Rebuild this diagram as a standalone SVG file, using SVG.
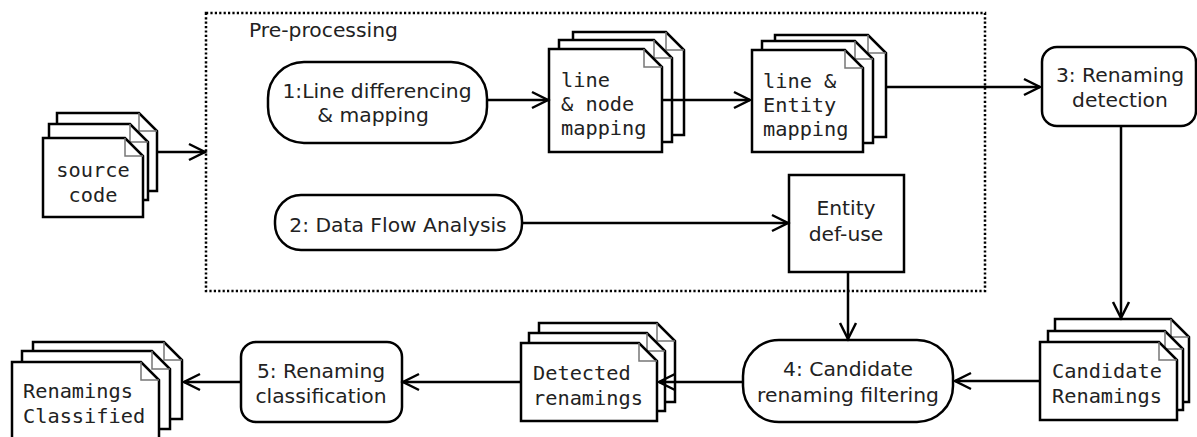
<svg xmlns="http://www.w3.org/2000/svg" width="1197" height="437" viewBox="0 0 1197 437">
<style>
.box{fill:#fff;stroke:#000;stroke-width:2.5}
.doc{fill:#fff;stroke:#000;stroke-width:2.5;stroke-linejoin:miter}
.fold{fill:none;stroke:#777;stroke-width:1.5}
.sans{font-family:"DejaVu Sans","Liberation Sans",sans-serif;font-size:20.3px;fill:#222}
.mono{font-family:"DejaVu Sans Mono","Liberation Mono",monospace;font-size:20.3px;fill:#222}
.c{text-anchor:middle}
.edge{fill:none;stroke:#000;stroke-width:2.5}
.dotted{fill:none;stroke:#000;stroke-width:2.5;stroke-dasharray:2.2,2.2}
</style>
<defs>
<marker id="arr" markerUnits="userSpaceOnUse" markerWidth="24" markerHeight="24" viewBox="-20 -12 24 24" refX="0" refY="0" orient="auto">
<path d="M-16,-8 L0,0 L-16,8" fill="none" stroke="#000" stroke-width="2.5"/>
</marker>
</defs>

<g id="preprocessing">
<rect class="dotted" x="206" y="13" width="779" height="278"/>
<text class="sans" x="249" y="37">Pre-processing</text>
</g>

<g id="source-code">
<path class="doc" d="M57,113 H139 L157,131 V191 H57 Z"/><path class="fold" d="M139,113 V131 H157"/>
<path class="doc" d="M49,124 H130 L148,142 V200 H49 Z"/><path class="fold" d="M130,124 V142 H148"/>
<path class="doc" d="M43,138 H125 L143,156 V217 H43 Z"/><path class="fold" d="M125,138 V156 H143"/>
<text class="mono c" x="93" y="177">source</text>
<text class="mono c" x="93" y="202">code</text>
</g>

<g id="node1">
<rect class="box" x="268" y="62" width="219" height="81" rx="36" ry="36"/>
<text class="sans c" x="377" y="98">1:Line differencing</text>
<text class="sans c" x="373" y="122">&amp; mapping</text>
</g>

<g id="line-node-mapping">
<path class="doc" d="M573,32 H666 L684,50 V135 H573 Z"/><path class="fold" d="M666,32 V50 H684"/>
<path class="doc" d="M559,40 H654 L672,58 V142 H559 Z"/><path class="fold" d="M654,40 V58 H672"/>
<path class="doc" d="M549,49 H644 L662,67 V152 H549 Z"/><path class="fold" d="M644,49 V67 H662"/>
<text class="mono" x="561" y="87">line</text>
<text class="mono" x="561" y="111">&amp; node</text>
<text class="mono" x="561" y="135">mapping</text>
</g>

<g id="line-entity-mapping">
<path class="doc" d="M775,35 H868 L886,53 V137 H775 Z"/><path class="fold" d="M868,35 V53 H886"/>
<path class="doc" d="M762,41 H855 L873,59 V143 H762 Z"/><path class="fold" d="M855,41 V59 H873"/>
<path class="doc" d="M752,50 H845 L863,68 V152 H752 Z"/><path class="fold" d="M845,50 V68 H863"/>
<text class="mono" x="763" y="88">line &amp;</text>
<text class="mono" x="763" y="112">Entity</text>
<text class="mono" x="763" y="136">mapping</text>
</g>

<g id="node3">
<rect class="box" x="1042" y="47" width="154" height="79" rx="15" ry="15"/>
<text class="sans c" x="1120" y="82">3: Renaming</text>
<text class="sans c" x="1120" y="107">detection</text>
</g>

<g id="node2">
<rect class="box" x="275" y="195" width="247" height="55" rx="26" ry="26"/>
<text class="sans c" x="398" y="232">2: Data Flow Analysis</text>
</g>

<g id="entity-def-use">
<rect class="box" x="789" y="175" width="115" height="97"/>
<text class="sans c" x="846" y="215">Entity</text>
<text class="sans c" x="846" y="241">def-use</text>
</g>

<g id="candidate-renamings">
<path class="doc" d="M1055,319 H1171 L1189,337 V402 H1055 Z"/><path class="fold" d="M1171,319 V337 H1189"/>
<path class="doc" d="M1048,331 H1165 L1183,349 V410 H1048 Z"/><path class="fold" d="M1165,331 V349 H1183"/>
<path class="doc" d="M1040,342 H1159 L1177,360 V420 H1040 Z"/><path class="fold" d="M1159,342 V360 H1177"/>
<text class="mono" x="1052" y="378">Candidate</text>
<text class="mono" x="1052" y="403">Renamings</text>
</g>

<g id="node4">
<rect class="box" x="743" y="340" width="210" height="82" rx="36" ry="36"/>
<text class="sans c" x="848" y="376">4: Candidate</text>
<text class="sans c" x="848" y="402">renaming filtering</text>
</g>

<g id="detected-renamings">
<path class="doc" d="M539,323 H657 L675,341 V402 H539 Z"/><path class="fold" d="M657,323 V341 H675"/>
<path class="doc" d="M529,333 H647 L665,351 V411 H529 Z"/><path class="fold" d="M647,333 V351 H665"/>
<path class="doc" d="M521,343 H639 L657,361 V421 H521 Z"/><path class="fold" d="M639,343 V361 H657"/>
<text class="mono" x="533" y="380">Detected</text>
<text class="mono" x="533" y="405">renamings</text>
</g>

<g id="node5">
<rect class="box" x="241" y="342" width="161" height="80" rx="15" ry="15"/>
<text class="sans c" x="321" y="378">5: Renaming</text>
<text class="sans c" x="321" y="403">classification</text>
</g>

<g id="renamings-classified">
<path class="doc" d="M33,342 H164 L182,360 V419 H33 Z"/><path class="fold" d="M164,342 V360 H182"/>
<path class="doc" d="M22,351 H152 L170,369 V429 H22 Z"/><path class="fold" d="M152,351 V369 H170"/>
<path class="doc" d="M12,362 H141 L159,380 V445 H12 Z"/><path class="fold" d="M141,362 V380 H159"/>
<text class="mono" x="23" y="398">Renamings</text>
<text class="mono" x="23" y="423">Classified</text>
</g>

<g id="connectors">
<path class="edge" d="M157,152 H205" marker-end="url(#arr)"/>
<path class="edge" d="M487,100 H548" marker-end="url(#arr)"/>
<path class="edge" d="M662,100 H750" marker-end="url(#arr)"/>
<path class="edge" d="M886,87 H1040" marker-end="url(#arr)"/>
<path class="edge" d="M522,223 H788" marker-end="url(#arr)"/>
<path class="edge" d="M1121,126 V318" marker-end="url(#arr)"/>
<path class="edge" d="M848,272 V339" marker-end="url(#arr)"/>
<path class="edge" d="M1040,381 H955" marker-end="url(#arr)"/>
<path class="edge" d="M743,382 H659" marker-end="url(#arr)"/>
<path class="edge" d="M521,382 H403" marker-end="url(#arr)"/>
<path class="edge" d="M241,382 H184" marker-end="url(#arr)"/>
</g>
</svg>
